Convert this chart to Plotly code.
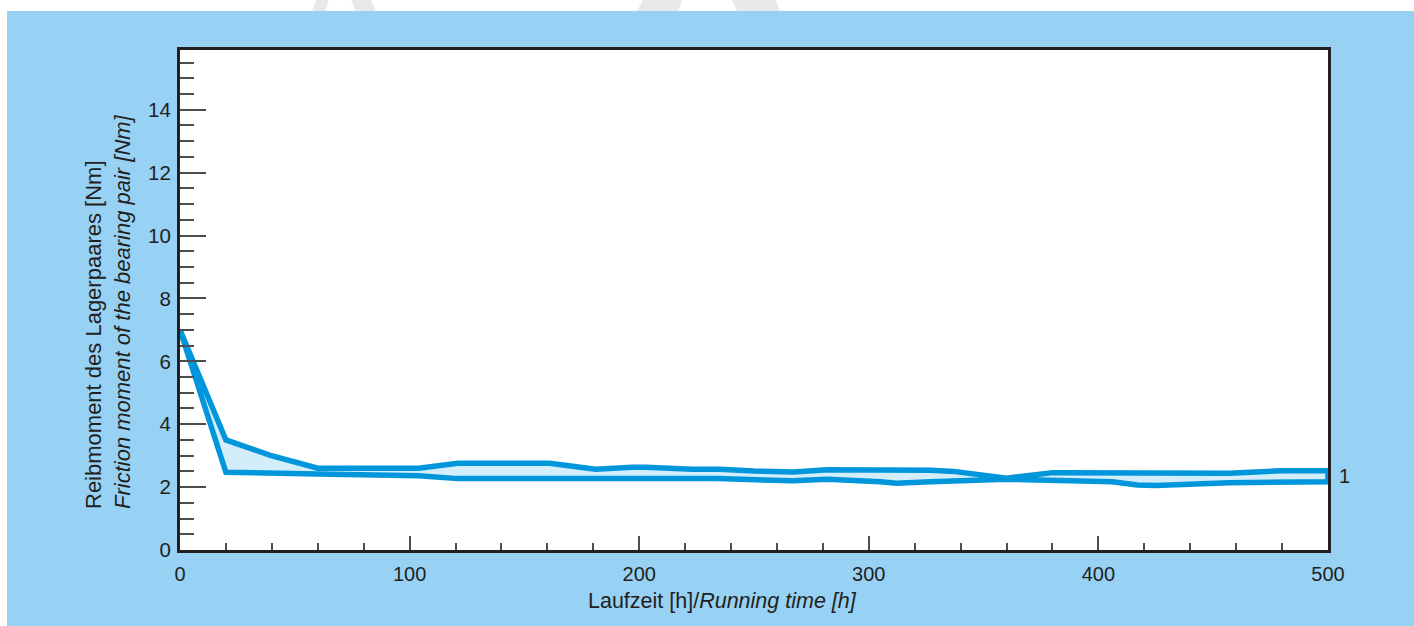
import plotly.graph_objects as go

# Running time [h] and friction moment [Nm] — upper and lower envelope of curve 1
upper_h = [0, 20, 39, 60, 104, 121, 161, 181, 197, 203, 223, 235, 250, 267, 282, 305, 327, 337, 360, 380, 457, 479, 500]
upper_v = [7.0, 3.5, 3.02, 2.6, 2.6, 2.76, 2.76, 2.57, 2.63, 2.63, 2.57, 2.57, 2.51, 2.48, 2.55, 2.55, 2.54, 2.50, 2.28, 2.46, 2.44, 2.52, 2.52]
lower_h = [0, 20, 60, 104, 121, 234, 267, 282, 305, 312, 327, 360, 406, 417, 425, 457, 500]
lower_v = [7.0, 2.47, 2.42, 2.36, 2.27, 2.27, 2.2, 2.25, 2.17, 2.12, 2.17, 2.25, 2.17, 2.07, 2.05, 2.14, 2.17]

y_ticks = [0, 2, 4, 6, 8, 10, 12, 14]
x_ticks = [0, 100, 200, 300, 400, 500]
curve_label = "1"

x_title = "Laufzeit [h]/<i>Running time [h]</i>"
y_title = "Reibmoment des Lagerpaares [Nm]<br><i>Friction moment of the bearing pair [Nm]</i>"

BLUE_BG = "#97d1f4"
LINE = "#0096db"
FILL = "#d4edfa"
DARK = "#231f20"
FONT = "Liberation Sans, Arial, sans-serif"

poly_x = upper_h + lower_h[::-1]
poly_y = upper_v + lower_v[::-1]

fig = go.Figure()
fig.add_trace(go.Scatter(
    x=poly_x, y=poly_y, mode="lines", fill="toself", fillcolor=FILL,
    line=dict(color=LINE, width=5.5), hoverinfo="skip", showlegend=False,
))

fig.update_layout(
    width=1414, height=626,
    margin=dict(l=180, r=86, t=50, b=76),
    paper_bgcolor=BLUE_BG, plot_bgcolor="white",
    font=dict(family=FONT, color=DARK, size=20),
    showlegend=False,
)

fig.update_xaxes(
    range=[0, 500], tickvals=x_ticks, ticks="inside", ticklen=14, tickwidth=2,
    tickcolor="#4d4d4d", minor=dict(dtick=20, tick0=0, ticks="inside", ticklen=7, tickwidth=2, tickcolor="#4d4d4d"),
    showline=True, linewidth=3, linecolor=DARK, mirror=True, showgrid=False, zeroline=False,
    tickfont=dict(size=20, color=DARK, family=FONT), ticklabelstandoff=4,
)
fig.update_yaxes(
    range=[0, 15.9], tickvals=y_ticks, ticks="inside", ticklen=26, tickwidth=2,
    tickcolor="#4d4d4d", minor=dict(dtick=0.5, tick0=0, ticks="inside", ticklen=14, tickwidth=2, tickcolor="#4d4d4d"),
    showline=True, linewidth=3, linecolor=DARK, mirror=True, showgrid=False, zeroline=False,
    tickfont=dict(size=20.5, color=DARK, family=FONT), ticklabelstandoff=2,
)

W, H = 1148, 500
def px(x):
    return (x - 180) / W
def py(y):
    return (550 - y) / H

# white strip at the top/left and faint grey watermark strokes
shapes = [
    dict(type="rect", xref="paper", yref="paper", x0=px(-5), x1=px(1420), y0=py(11), y1=py(-5),
         fillcolor="white", line=dict(width=0), layer="below"),
    dict(type="rect", xref="paper", yref="paper", x0=px(-5), x1=px(7), y0=py(630), y1=py(-5),
         fillcolor="white", line=dict(width=0), layer="below"),
]
for (a, b, c, d) in [(316, 329, 312, 325), (351, 371, 356, 376), (643, 682, 637, 678), (732, 776, 737, 780)]:
    shapes.append(dict(type="path", xref="paper", yref="paper",
                       path=f"M {px(a)} {py(0)} L {px(b)} {py(0)} L {px(d)} {py(11)} L {px(c)} {py(11)} Z",
                       fillcolor="#e8e8e8", line=dict(width=0), layer="below"))
fig.update_layout(shapes=shapes)

fig.add_annotation(xref="paper", yref="paper", x=px(722), y=py(601), text=x_title,
                   showarrow=False, font=dict(size=21.5, color=DARK, family=FONT), xanchor="center", yanchor="middle")
fig.add_annotation(xref="paper", yref="paper", x=px(108), y=py(312), text=y_title, textangle=-90,
                   align="left", showarrow=False, font=dict(size=22, color=DARK, family=FONT),
                   xanchor="center", yanchor="middle")
fig.add_annotation(xref="paper", yref="paper", x=px(1337), y=py(476), text=curve_label,
                   showarrow=False, font=dict(size=20, color=DARK, family=FONT), xanchor="left", yanchor="middle")

fig.write_html("out.html", config={"displayModeBar": False},
               post_script="document.body.style.margin='0';document.body.style.overflow='hidden';")
